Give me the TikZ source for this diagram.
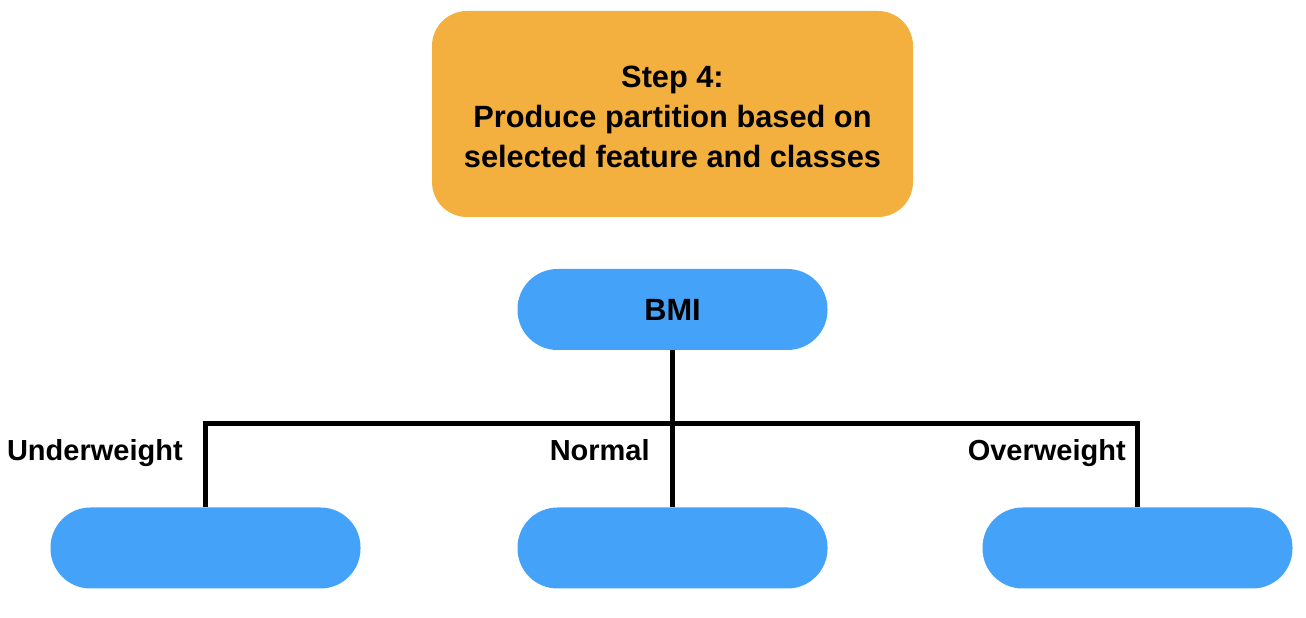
\documentclass[tikz,border=0pt]{standalone}
\usepackage{fontspec}
\setmainfont{Liberation Sans}
\usepackage{xcolor}
\usetikzlibrary{positioning}
\definecolor{steporange}{HTML}{F3B03F}
\definecolor{leafblue}{HTML}{44A3F8}

\begin{document}
\begin{tikzpicture}[
            stepbox/.style={rectangle, rounded corners=0.7cm, fill=steporange, minimum width=9.62cm, minimum height=4.12cm, align=center, font=\fontsize{17.5}{22.8}\selectfont\bfseries},
            leaf/.style={rectangle, rounded corners=0.8cm, fill=leafblue, minimum width=6.2cm, minimum height=1.62cm, font=\fontsize{17.5}{20}\selectfont\bfseries},
            branch/.style={font=\fontsize{16.5}{20}\selectfont\bfseries, anchor=base east, inner sep=0pt},
            tree/.style={line width=2.4pt}]

            \useasboundingbox (0,0) rectangle (26.12,12.36);

            % 步骤说明
            \node[stepbox] (step) at (13.45,10.08) {\rule{0pt}{15.9pt}Step 4:\\Produce partition based on\\selected feature and classes};

            % 特征
            \node[leaf] (bmi) at (13.45,6.17) {BMI};

            % 划分
            \node[leaf] (under) at (4.11,1.40) {};
            \node[leaf] (normal) at (13.45,1.40) {};
            \node[leaf] (over) at (22.75,1.40) {};

            % 连接
            \coordinate (fork) at (13.45,3.89);
            \draw[tree] (bmi.south) -- (normal.north);
            \draw[tree] (under.north) |- (fork) -| (over.north);

            % 类别
            \node[branch] (lunder) at (3.66,3.14) {Underweight};
            \node[branch] (lnormal) at (13.0,3.14) {Normal};
            \node[branch] (lover) at (22.52,3.14) {Overweight};
        \end{tikzpicture}
\end{document}
